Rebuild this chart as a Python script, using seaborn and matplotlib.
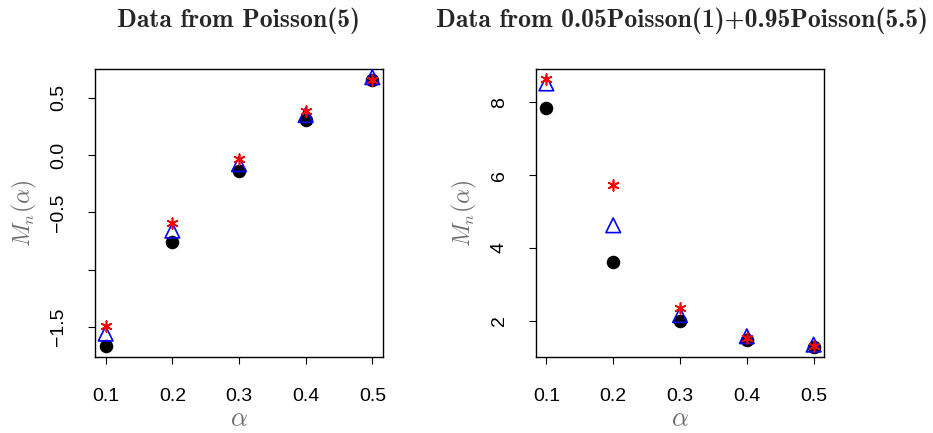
import matplotlib
matplotlib.use("Agg")
import matplotlib.pyplot as plt
import seaborn as sns
import pandas as pd

sns.set_style("white")
plt.rcParams['font.family'] = ['Liberation Sans', 'DejaVu Sans']
plt.rcParams['mathtext.fontset'] = 'cm'

alpha = [0.1, 0.2, 0.3, 0.4, 0.5]

# Left panel: data from Poisson(5)
left_circle = [-1.67, -0.76, -0.14, 0.31, 0.66]
left_triangle = [-1.56, -0.66, -0.08, 0.35, 0.68]
left_star = [-1.49, -0.59, -0.03, 0.385, 0.66]

# Right panel: data from mixture
right_circle = [7.84, 3.62, 2.00, 1.48, 1.28]
right_triangle = [8.52, 4.62, 2.15, 1.57, 1.34]
right_star = [8.63, 5.72, 2.35, 1.52, 1.30]

left_yticks = [-1.5, -1.0, -0.5, 0.0, 0.5]
left_yticklabels = ['\u22121.5', '', '\u22120.5', '0.0', '0.5']
right_yticks = [2, 4, 6, 8]
right_yticklabels = ['2', '4', '6', '8']
xticks = [0.1, 0.2, 0.3, 0.4, 0.5]

titles = ["Data from Poisson(5)",
          "Data from 0.05Poisson(1)+0.95Poisson(5.5)"]

W, H = 933, 433
fig = plt.figure(figsize=(W / 100, H / 100), dpi=100)
ax1 = fig.add_axes([95 / W, 1 - 357 / H, 288 / W, 288 / H])
ax2 = fig.add_axes([535.7 / W, 1 - 357 / H, 288.6 / W, 288 / H])

panels = [
    (ax1, left_circle, left_triangle, left_star, (-1.764, 0.752), left_yticks, left_yticklabels),
    (ax2, right_circle, right_triangle, right_star, (1.0, 8.917), right_yticks, right_yticklabels),
]

for ax, c, t, s, ylim, yt, ytl in panels:
    df = pd.DataFrame({"alpha": alpha, "c": c, "t": t, "s": s})
    sns.scatterplot(data=df, x="alpha", y="c", ax=ax, marker="o", color="black",
                    s=95, edgecolor="black", linewidth=0, zorder=3)
    sns.scatterplot(data=df, x="alpha", y="t", ax=ax, marker="^", facecolor="none",
                    edgecolor="blue", s=110, linewidth=1.2, zorder=4)
    sns.scatterplot(data=df, x="alpha", y="s", ax=ax, marker=(6, 2, 0), color="red",
                    edgecolor="red", s=60, linewidth=1.2, zorder=5)
    ax.set_xlim(0.084, 0.516)
    ax.set_ylim(*ylim)
    ax.set_xticks(xticks)
    ax.set_xticklabels([f"{v:.1f}" for v in xticks])
    ax.set_yticks(yt)
    ax.set_yticklabels(ytl, rotation=90, va='center')
    for sp in ax.spines.values():
        sp.set_visible(True)
        sp.set_color("black")
        sp.set_linewidth(1.0)
    ax.tick_params(axis='both', which='both', direction='out', length=5, width=0.8,
                   color='black', labelsize=14, labelcolor='black', bottom=True, left=True)
    ax.tick_params(axis='x', pad=17)
    ax.tick_params(axis='y', pad=15)
    ax.set_xlabel(r"$\alpha$", fontsize=19, color="#6e6e6e")
    ax.set_ylabel(r"$M_n(\alpha)$", fontsize=17, color="#6e6e6e")
    ax.xaxis.set_label_coords(0.5, -0.175)
    ax.yaxis.set_label_coords(-0.195, 0.5)
    ax.set_facecolor("white")

fig.text(239 / W, 1 - 21 / H, titles[0], ha='center', va='center', fontsize=18.5,
         family='cmb10')
fig.text(682 / W, 1 - 21 / H, titles[1], ha='center', va='center', fontsize=18.5,
         family='cmb10')

fig.savefig("out.png", dpi=100, facecolor="white")
